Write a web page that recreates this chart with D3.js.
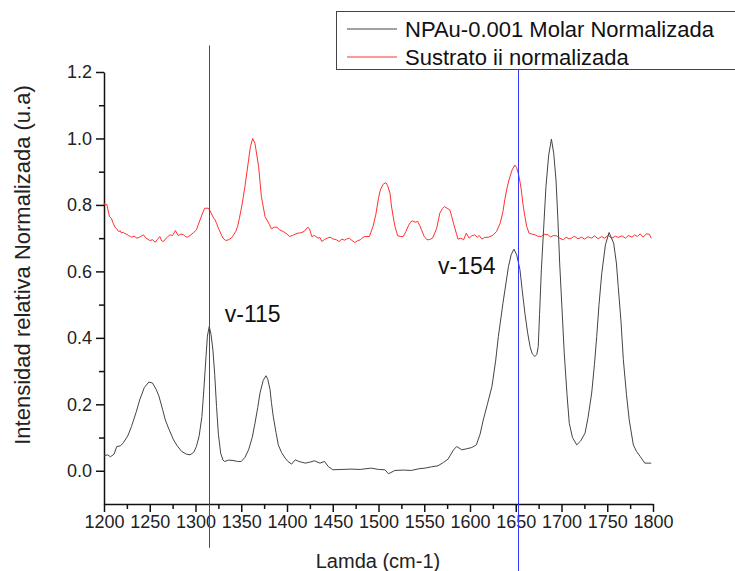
<!DOCTYPE html>
<html>
<head>
<meta charset="utf-8">
<script src="https://cdn.jsdelivr.net/npm/d3@7"></script>
<style>
  body { margin: 0; background: #fff; }
  text { font-family: "Liberation Sans", Arial, sans-serif; }
</style>
</head>
<body>
<div id="chart"></div>
<script>
// black curve: NPAu-0.001 Molar Normalizada  [wavenumber, intensity]
var npau = [
  [1200,0.045],[1204,0.048],[1207,0.042],[1211,0.050],[1214,0.073],[1218,0.075],[1221,0.084],
  [1226,0.105],[1230,0.133],[1235,0.175],[1239,0.213],[1244,0.250],[1249,0.267],[1253,0.264],
  [1257,0.245],[1260,0.225],[1264,0.185],[1267,0.153],[1271,0.125],[1276,0.093],[1280,0.075],
  [1285,0.058],[1290,0.050],[1294,0.048],[1298,0.055],[1301,0.073],[1304,0.105],[1307,0.163],
  [1309,0.240],[1311.5,0.344],[1313,0.405],[1315,0.434],[1317,0.410],[1319,0.364],[1321,0.290],
  [1323,0.193],[1325,0.110],[1327.5,0.053],[1330,0.032],[1332,0.028],[1336,0.032],[1341,0.031],
  [1346,0.028],[1350,0.028],[1354,0.040],[1358,0.063],[1362,0.100],[1365,0.143],[1368,0.190],
  [1370.5,0.234],[1374,0.272],[1377,0.286],[1379,0.275],[1381.5,0.244],[1383,0.205],[1385,0.163],
  [1388,0.115],[1390.5,0.078],[1394,0.055],[1398,0.038],[1401,0.028],[1405,0.020],[1409,0.033],
  [1413,0.028],[1420,0.023],[1425,0.026],[1430,0.030],[1436,0.023],[1441,0.028],[1445,0.013],
  [1450,0.003],[1460,0.004],[1470,0.005],[1480,0.004],[1492,0.008],[1500,0.004],[1507,0.003],
  [1511,-0.009],[1518,0.001],[1527,0.002],[1536,0.001],[1544,0.006],[1551,0.008],[1558,0.012],
  [1565,0.015],[1571,0.025],[1576,0.035],[1582,0.063],[1585.5,0.073],[1591,0.063],[1596,0.066],
  [1602,0.070],[1607,0.078],[1611,0.110],[1614.5,0.153],[1619,0.200],[1624,0.254],[1628,0.330],
  [1631,0.404],[1636,0.504],[1642,0.614],[1645,0.650],[1648,0.667],[1651,0.650],[1654.6,0.605],
  [1657,0.545],[1660,0.474],[1663,0.415],[1665.6,0.374],[1668,0.352],[1671,0.344],[1673,0.350],
  [1674.6,0.374],[1676,0.470],[1678,0.605],[1680.5,0.730],[1683,0.855],[1686,0.950],[1689,0.998],
  [1691.5,0.955],[1694,0.875],[1696,0.760],[1698,0.625],[1700.5,0.490],[1703,0.354],[1706,0.230],
  [1708.5,0.143],[1712,0.100],[1716.6,0.078],[1721,0.090],[1725.7,0.113],[1729,0.160],[1733,0.234],
  [1736,0.320],[1738.5,0.404],[1741,0.500],[1744,0.594],[1748,0.680],[1752,0.717],[1757,0.685],
  [1760,0.625],[1762,0.554],[1765,0.450],[1767.6,0.334],[1771,0.230],[1774,0.153],[1778.5,0.078],
  [1782,0.058],[1786,0.043],[1791,0.023],[1798,0.023]
];

// red curve: Sustrato ii normalizada
var sustrato = [
  [1200,0.805],[1201,0.800],[1203,0.802],[1206,0.765],[1208,0.760],[1210,0.745],[1212,0.733],
  [1214,0.728],[1216,0.720],[1218,0.722],[1219,0.715],[1221,0.718],[1223,0.713],[1225,0.712],
  [1227,0.707],[1229,0.705],[1230,0.703],[1233,0.706],[1236,0.700],[1239,0.703],[1243,0.710],
  [1246,0.700],[1250,0.693],[1253,0.695],[1256,0.688],[1258,0.695],[1261,0.705],[1263,0.692],
  [1265,0.690],[1268,0.700],[1270,0.705],[1272,0.710],[1275,0.708],[1278,0.723],[1281,0.708],
  [1284,0.712],[1287,0.710],[1289,0.705],[1291,0.703],[1294,0.708],[1298,0.717],[1301,0.725],
  [1303,0.740],[1307,0.770],[1310,0.790],[1314,0.790],[1316,0.782],[1318,0.770],[1320,0.760],
  [1321,0.757],[1323,0.745],[1325,0.730],[1328,0.712],[1330,0.700],[1333,0.693],[1336,0.695],
  [1339,0.700],[1341,0.707],[1344,0.720],[1346,0.735],[1348,0.760],[1350.5,0.795],[1354,0.855],
  [1358,0.935],[1360,0.975],[1362.5,1.000],[1365,0.985],[1367,0.950],[1369,0.915],[1372,0.825],
  [1376,0.765],[1381,0.740],[1383,0.728],[1386,0.733],[1389,0.733],[1392,0.725],[1396,0.720],
  [1400,0.712],[1403,0.705],[1406,0.708],[1409,0.712],[1412,0.715],[1415,0.716],[1418.6,0.720],
  [1421,0.728],[1423,0.733],[1425,0.725],[1427,0.705],[1430,0.708],[1434,0.700],[1436,0.702],
  [1438,0.690],[1441,0.696],[1444,0.700],[1447,0.703],[1450,0.698],[1454,0.695],[1457,0.690],
  [1460,0.697],[1463,0.694],[1465,0.697],[1468,0.700],[1471,0.693],[1474,0.687],[1477,0.692],
  [1480,0.695],[1483,0.702],[1485,0.705],[1490,0.705],[1494,0.735],[1497,0.770],[1500,0.820],
  [1502,0.845],[1505,0.862],[1508,0.867],[1510,0.858],[1512.6,0.835],[1514,0.800],[1516,0.765],
  [1518,0.735],[1521,0.707],[1524,0.705],[1527,0.705],[1530,0.720],[1532.6,0.737],[1535,0.748],
  [1537,0.752],[1540,0.748],[1543,0.750],[1545,0.738],[1547,0.725],[1550,0.705],[1553,0.695],
  [1556,0.696],[1559,0.700],[1561,0.712],[1563.6,0.730],[1567,0.775],[1570,0.790],[1572,0.795],
  [1575,0.790],[1578,0.785],[1580,0.765],[1582,0.745],[1585,0.715],[1587,0.697],[1590,0.700],
  [1593,0.695],[1596,0.715],[1599,0.700],[1602,0.707],[1605,0.710],[1608,0.703],[1610,0.708],
  [1613,0.697],[1616,0.702],[1620,0.703],[1623,0.706],[1625.5,0.710],[1629,0.720],[1633,0.745],
  [1636,0.780],[1638,0.815],[1640,0.845],[1642.6,0.875],[1646,0.905],[1649,0.920],[1651,0.912],
  [1652.8,0.895],[1655,0.865],[1656.5,0.835],[1658,0.800],[1660,0.765],[1662,0.735],[1664.5,0.715],
  [1668,0.712],[1671,0.710],[1674,0.706],[1678,0.705],[1681,0.712],[1685.6,0.710],[1688,0.703],
  [1691,0.708],[1694.7,0.707],[1698,0.700],[1702,0.695],[1705,0.703],[1708,0.698],[1711,0.700],
  [1714,0.706],[1718,0.698],[1722,0.703],[1725,0.697],[1729,0.704],[1733,0.700],[1736,0.707],
  [1740,0.698],[1744,0.705],[1747,0.700],[1751,0.708],[1755,0.700],[1759,0.706],[1762,0.702],
  [1766,0.707],[1770,0.700],[1773,0.708],[1777,0.703],[1780,0.710],[1783,0.705],[1786,0.713],
  [1789,0.703],[1793,0.713],[1796,0.712],[1798,0.700]
];

var xTicks = [1200,1250,1300,1350,1400,1450,1500,1550,1600,1650,1700,1750,1800];
var xMinor = [1225,1275,1325,1375,1425,1475,1525,1575,1625,1675,1725,1775];
var yTicks = [0.0,0.2,0.4,0.6,0.8,1.0,1.2];
var yMinor = [0.1,0.3,0.5,0.7,0.9,1.1];

// marker lines (wavenumber, top, bottom in data units) and labels
var markers = [
  {x: 1315, top: 1.28, bottom: -0.232},
  {x: 1652, top: 1.28, bottom: -0.31}
];
var notes = [
  {text: "v-115", x: 1332, y: 0.448},
  {text: "v-154", x: 1565, y: 0.592}
];
var legendItems = [
  {name: "NPAu-0.001 Molar Normalizada", color: "#444"},
  {name: "Sustrato ii normalizada", color: "#ff3030"}
];

var width = 735, height = 571;

var x = d3.scaleLinear().domain([1200, 1800]).range([104, 653]);
var y = d3.scaleLinear().domain([-0.1, 1.2]).range([504, 72]);

var svg = d3.select("#chart").append("svg")
    .attr("width", width)
    .attr("height", height);

// axes
svg.append("g")
    .attr("transform", "translate(0," + y(-0.1) + ")")
    .call(d3.axisBottom(x).tickValues(xTicks).tickFormat(d3.format("d")).tickSize(8).tickPadding(3).tickSizeOuter(0));
svg.append("g")
    .attr("transform", "translate(0," + y(-0.1) + ")")
    .call(d3.axisBottom(x).tickValues(xMinor).tickFormat("").tickSize(5).tickSizeOuter(0))
    .select(".domain").remove();

svg.append("g")
    .attr("transform", "translate(" + x(1200) + ",0)")
    .call(d3.axisLeft(y).tickValues(yTicks).tickFormat(d3.format(".1f")).tickSize(8).tickPadding(4).tickSizeOuter(0));
svg.append("g")
    .attr("transform", "translate(" + x(1200) + ",0)")
    .call(d3.axisLeft(y).tickValues(yMinor).tickFormat("").tickSize(5).tickSizeOuter(0))
    .select(".domain").remove();

svg.selectAll(".domain").attr("stroke", "#111").attr("stroke-width", 1.5);
svg.selectAll(".tick line").attr("stroke", "#111").attr("stroke-width", 1.5);
svg.selectAll(".tick text").attr("font-size", 18).attr("fill", "#222")
    .style("font-family", "'Liberation Sans', Arial, sans-serif");

// axis titles
svg.append("text")
    .attr("x", 378)
    .attr("y", 568)
    .attr("text-anchor", "middle")
    .attr("font-size", 20)
    .attr("fill", "#222")
    .text("Lamda (cm-1)");

svg.append("text")
    .attr("transform", "translate(30," + 265 + ") rotate(-90)")
    .attr("text-anchor", "middle")
    .attr("font-size", 22)
    .attr("fill", "#222")
    .text("Intensidad relativa Normalizada (u.a)");

// curves
var line = d3.line()
    .x(function(d) { return x(d[0]); })
    .y(function(d) { return y(d[1]); });

svg.append("path")
    .datum(sustrato)
    .attr("fill", "none")
    .attr("stroke", "#ff3030")
    .attr("stroke-width", 1)
    .attr("d", line);

svg.append("path")
    .datum(npau)
    .attr("fill", "none")
    .attr("stroke", "#444")
    .attr("stroke-width", 1)
    .attr("d", line);

// blue marker lines
svg.selectAll(".marker")
    .data(markers)
    .enter().append("line")
    .attr("class", "marker")
    .attr("x1", function(d) { return Math.round(x(d.x)) + 0.5; })
    .attr("x2", function(d) { return Math.round(x(d.x)) + 0.5; })
    .attr("y1", function(d) { return y(d.top); })
    .attr("y2", function(d) { return y(d.bottom); })
    .attr("stroke", "#3535ff")
    .attr("stroke-width", 1);

svg.selectAll(".note")
    .data(notes)
    .enter().append("text")
    .attr("class", "note")
    .attr("x", function(d) { return x(d.x); })
    .attr("y", function(d) { return y(d.y); })
    .attr("font-size", 23)
    .attr("fill", "#111")
    .text(function(d) { return d.text; });

// legend
var legend = svg.append("g").attr("transform", "translate(336,11)");
legend.append("rect")
    .attr("x", 0.5).attr("y", 0.5)
    .attr("width", 410).attr("height", 58)
    .attr("fill", "#fff")
    .attr("stroke", "#444")
    .attr("stroke-width", 1);

var rows = legend.selectAll(".row")
    .data(legendItems)
    .enter().append("g")
    .attr("class", "row")
    .attr("transform", function(d, i) { return "translate(0," + (18 + i * 28) + ")"; });
rows.append("line")
    .attr("x1", 11).attr("x2", 61)
    .attr("stroke", function(d) { return d.color; })
    .attr("stroke-width", 1);
rows.append("text")
    .attr("x", 69)
    .attr("dy", "0.35em")
    .attr("font-size", 22)
    .attr("fill", "#111")
    .text(function(d) { return d.name; });
</script>
</body>
</html>
